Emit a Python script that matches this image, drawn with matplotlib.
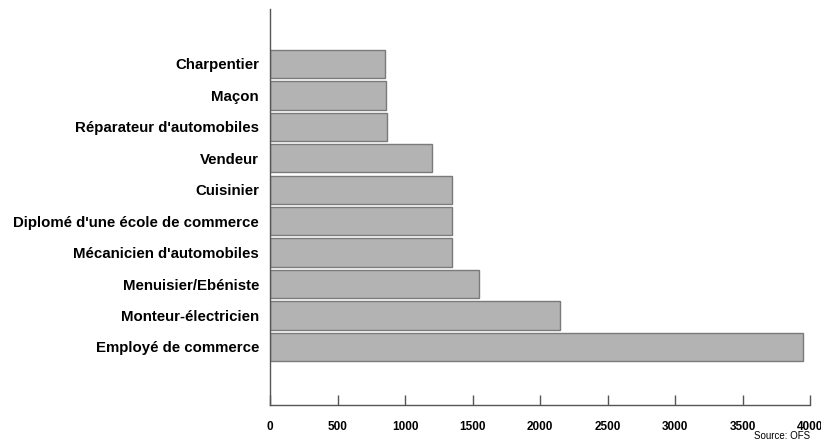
import numpy as np
import matplotlib
matplotlib.use('Agg')
import matplotlib.pyplot as plt

plt.rcParams['font.family'] = ['Liberation Sans', 'DejaVu Sans']

# data, bottom to top
metiers = ["Employé de commerce", "Monteur-électricien", "Menuisier/Ebéniste",
           "Mécanicien d'automobiles", "Diplomé d'une école de commerce", "Cuisinier",
           "Vendeur", "Réparateur d'automobiles", "Maçon", "Charpentier"]
valeurs = [3950, 2150, 1550, 1350, 1350, 1350, 1200, 865, 860, 850]
xticks = [0, 500, 1000, 1500, 2000, 2500, 3000, 3500, 4000]

fig = plt.figure(figsize=(8.21, 4.41), dpi=100)
ax = fig.add_axes([0.3289, 0.0816, 0.6577, 0.898])

y = np.arange(len(metiers))
ax.barh(y, valeurs, height=0.9, color='#b3b3b3', edgecolor='#7a7a7a', linewidth=1.0)

ax.set_xlim(0, 4000)
ax.set_ylim(-1.85, 10.75)
ax.set_yticks(y)
ax.set_yticklabels(metiers, fontsize=10.8, fontweight='bold')
ax.tick_params(axis='y', length=0, pad=8)
ax.set_xticks(xticks)
ax.set_xticklabels([str(t) for t in xticks], fontsize=8.5, fontweight='bold')
ax.tick_params(axis='x', direction='in', length=7.5, width=1, color='#555555', pad=11.5)

for s in ['top', 'right']:
    ax.spines[s].set_visible(False)
for s in ['left', 'bottom']:
    ax.spines[s].set_color('#555555')
    ax.spines[s].set_linewidth(1)

fig.text(0.987, 0.0, 'Source: OFS', ha='right', va='bottom', fontsize=7)

fig.savefig('out.png', dpi=100)
